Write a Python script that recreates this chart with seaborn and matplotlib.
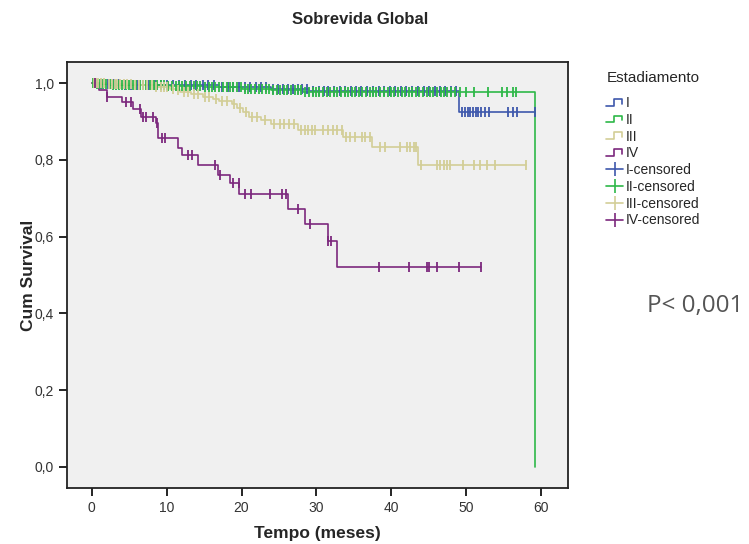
import numpy as np
import pandas as pd
import matplotlib
matplotlib.use("Agg")
import matplotlib.pyplot as plt
from matplotlib.lines import Line2D
from matplotlib.legend_handler import HandlerBase
import seaborn as sns

# ---- Kaplan-Meier estimates by stage (time in months, cumulative survival) ----
stages = ["I", "II", "III", "IV"]
colors = ["#3E58AC", "#2EB848", "#D3CE97", "#7C287D"]

i_event_t = [1.0, 4.0, 10.0, 17.0, 24.0, 29.0, 49.1]
i_surv = [0.998, 0.996, 0.994, 0.991, 0.986, 0.979, 0.925]
i_cens = [0.4, 1.3, 2.2, 3.0, 3.6, 4.5, 5.3, 6.1, 6.8, 7.7, 8.4, 9.2, 10.1, 10.9,
          11.6, 12.4, 13.2, 13.9, 14.8, 15.5, 16.3, 17.4, 18.2, 18.9, 19.6, 20.4,
          21.1, 21.9, 22.6, 23.3, 24.2, 24.9, 25.6, 26.2, 26.9, 27.5, 28.1, 28.8,
          29.6, 30.3, 31.0, 31.6, 32.4, 33.1, 33.8, 34.6, 35.3, 36.0, 36.8, 37.5,
          38.3, 39.0, 39.8, 40.5, 41.3, 42.0, 42.8, 43.5, 44.3, 45.0, 45.8, 46.5,
          47.2, 48.0, 48.6, 49.4, 49.8, 50.2, 50.5, 50.9, 51.3, 51.6, 52.0, 52.5,
          53.0, 55.6, 56.3, 56.8, 59.2]

ii_event_t = [0.5, 2.5, 6.0, 10.0, 15.0, 20.0, 24.0, 28.2, 59.2]
ii_surv = [0.998, 0.996, 0.994, 0.992, 0.989, 0.986, 0.982, 0.976, 0.0]
ii_cens = [0.2, 0.7, 1.1, 1.5, 1.9, 2.4, 2.8, 3.2, 3.7, 4.1, 4.6, 5.0, 5.5, 5.9,
           6.4, 6.9, 7.3, 7.8, 8.3, 8.7, 9.2, 9.6, 10.2, 10.7, 11.2, 11.7, 12.1,
           12.6, 13.1, 13.6, 14.0, 14.5, 15.1, 15.6, 16.0, 16.5, 17.0, 17.5, 18.0,
           18.4, 18.9, 19.4, 19.9, 20.4, 20.9, 21.3, 21.8, 22.3, 22.8, 23.3, 23.7,
           24.2, 24.7, 25.2, 25.7, 26.1, 26.6, 27.1, 27.6, 28.0, 28.5, 29.0, 29.5,
           29.9, 30.4, 30.9, 31.4, 31.8, 32.3, 32.8, 33.3, 33.8, 34.2, 34.7, 35.2,
           35.7, 36.1, 36.6, 37.1, 37.6, 38.0, 38.5, 39.0, 39.5, 39.9, 40.4, 40.9,
           41.4, 41.8, 42.3, 42.8, 43.3, 43.7, 44.2, 44.7, 45.2, 45.6, 46.1, 46.6,
           47.1, 47.5, 48.0, 48.5, 49.2, 50.0, 51.0, 52.9, 54.8, 55.5, 56.3, 56.7]

iii_event_t = [2.0, 5.5, 8.5, 10.4, 11.2, 11.8, 13.3, 14.8, 16.2, 17.0, 18.7, 19.4,
               20.2, 21.0, 22.6, 23.9, 27.6, 33.6, 37.4, 43.5]
iii_surv = [0.997, 0.994, 0.991, 0.986, 0.981, 0.976, 0.971, 0.965, 0.959, 0.953,
            0.945, 0.936, 0.926, 0.912, 0.903, 0.893, 0.879, 0.859, 0.834, 0.786]
iii_cens = [0.3, 0.6, 0.9, 1.2, 1.6, 2.3, 2.7, 3.1, 3.4, 3.8, 4.3, 4.7, 5.2, 5.8,
            6.3, 6.9, 7.4, 8.0, 8.6, 9.2, 9.7, 10.1, 10.8, 11.5, 12.3, 12.8, 13.6,
            14.2, 15.1, 15.6, 16.6, 17.4, 18.1, 19.0, 19.8, 20.6, 21.4, 22.0, 23.2,
            24.4, 25.1, 25.7, 26.3, 27.0, 28.0, 28.5, 28.9, 29.4, 29.8, 30.9, 31.6,
            32.2, 32.7, 33.4, 34.0, 34.5, 35.2, 36.1, 36.5, 37.2, 38.5, 39.2, 41.2,
            42.1, 42.5, 43.0, 43.3, 43.9, 46.1, 46.5, 47.0, 47.4, 47.9, 49.6, 51.0,
            51.9, 52.8, 53.9, 58.0]

iv_event_t = [1.0, 2.1, 4.0, 5.5, 6.6, 8.6, 8.9, 11.5, 12.0, 14.2, 16.8, 18.4,
              19.7, 26.2, 28.5, 31.5, 32.7]
iv_surv = [0.982, 0.964, 0.951, 0.934, 0.912, 0.895, 0.856, 0.832, 0.812, 0.786,
           0.762, 0.739, 0.711, 0.672, 0.633, 0.589, 0.522]
iv_cens = [0.4, 2.1, 4.6, 5.3, 6.4, 6.9, 7.3, 8.2, 8.7, 9.4, 9.8, 12.9, 13.4,
           16.4, 17.1, 18.8, 19.6, 20.4, 21.3, 23.8, 25.4, 25.9, 27.6, 29.1, 31.6,
           31.9, 38.3, 42.3, 44.7, 45.0, 46.1, 49.0, 52.0]

x_ticks = [0, 10, 20, 30, 40, 50, 60]
y_ticks = [0.0, 0.2, 0.4, 0.6, 0.8, 1.0]

series = [
    (i_event_t, i_surv, i_cens),
    (ii_event_t, ii_surv, ii_cens),
    (iii_event_t, iii_surv, iii_cens),
    (iv_event_t, iv_surv, iv_cens),
]


def step_frame(event_t, surv, cens):
    """Step curve points: start at (0, 1), each event, then carried to last follow-up."""
    t = [0.0] + list(event_t)
    s = [1.0] + list(surv)
    end = max(cens)
    if end > t[-1] and s[-1] > 0:
        t.append(end)
        s.append(s[-1])
    return pd.DataFrame({"t": t, "s": s})


def surv_at(event_t, surv, times):
    idx = np.searchsorted(np.asarray(event_t), np.asarray(times), side="right") - 1
    s = np.asarray(surv)
    return np.where(idx < 0, 1.0, s[np.clip(idx, 0, None)])


sns.set_theme(style="white")
plt.rcParams["font.family"] = ["Liberation Sans", "DejaVu Sans"]

fig = plt.figure(figsize=(7.49, 5.44), dpi=100)
ax = fig.add_axes([0.0895, 0.1029, 0.6689, 0.783])
ax.set_facecolor("#F0F0F0")

for (et, sv, cs), col in zip(series, colors):
    df = step_frame(et, sv, cs)
    sns.lineplot(data=df, x="t", y="s", ax=ax, color=col, linewidth=1.2,
                 drawstyle="steps-post", estimator=None, sort=False, legend=False)
    cdf = pd.DataFrame({"t": cs, "s": surv_at(et, sv, cs)})
    sns.scatterplot(data=cdf, x="t", y="s", ax=ax, color=col, marker="|",
                    s=60, linewidth=1.3, legend=False, zorder=3)

ax.set_xlim(-3.3, 63.6)
ax.set_ylim(-0.055, 1.055)
ax.set_xticks(x_ticks)
ax.set_yticks(y_ticks)
ax.set_xticklabels([str(v) for v in x_ticks])
ax.set_yticklabels([f"{v:.1f}".replace(".", ",") for v in y_ticks])
ax.tick_params(axis="both", direction="out", length=6, width=1.2, color="black",
               labelsize=10, labelcolor="#333333", bottom=True, left=True)
for sp in ax.spines.values():
    sp.set_color("#222222")
    sp.set_linewidth(1.3)

ax.set_xlabel("Tempo (meses)", fontsize=12.5, fontweight="bold")
ax.set_ylabel("Cum Survival", fontsize=12.5, fontweight="bold")
ax.xaxis.set_label_coords(0.5, -0.09)
ax.yaxis.set_label_coords(-0.062, 0.5)
fig.text(0.481, 0.965, "Sobrevida Global", ha="center", va="center",
         fontsize=12, fontweight="bold")


class StepHandler(HandlerBase):
    def create_artists(self, legend, orig_handle, xdescent, ydescent, width,
                       height, fontsize, trans):
        w, h = width, height
        xs = np.array([0, 0.45, 0.45, 0.95, 0.95]) * w - xdescent
        ys = np.array([0.15, 0.15, 0.85, 0.85, 0.35]) * h - ydescent
        ln = Line2D(xs, ys, color=orig_handle.get_color(), linewidth=1.2,
                    transform=trans)
        return [ln]


step_handles = [Line2D([], [], color=c) for c in colors]
cens_handles = [Line2D([0], [0], color=c, linewidth=1.2, marker="|",
                       markersize=10, markeredgewidth=1.2) for c in colors]
labels = stages + [f"{s}-censored" for s in stages]
handler_map = {h: StepHandler() for h in step_handles}

fig.text(607 / 749, 1 - 78 / 544, "Estadiamento", ha="left", va="center",
         fontsize=11)
leg = fig.legend(step_handles + cens_handles, labels, handler_map=handler_map,
                 loc="upper left", bbox_to_anchor=(606 / 749, 1 - 96 / 544),
                 frameon=False, fontsize=10,
                 handlelength=1.25, handletextpad=0.2,
                 labelspacing=0.2, borderaxespad=0, borderpad=0)

fig.text(647 / 749, 1 - 306 / 544, "P< 0,001", ha="left", va="center",
         fontsize=17.5, color="#555555", family=["Open Sans", "DejaVu Sans"])

fig.savefig("out.png", dpi=100)
